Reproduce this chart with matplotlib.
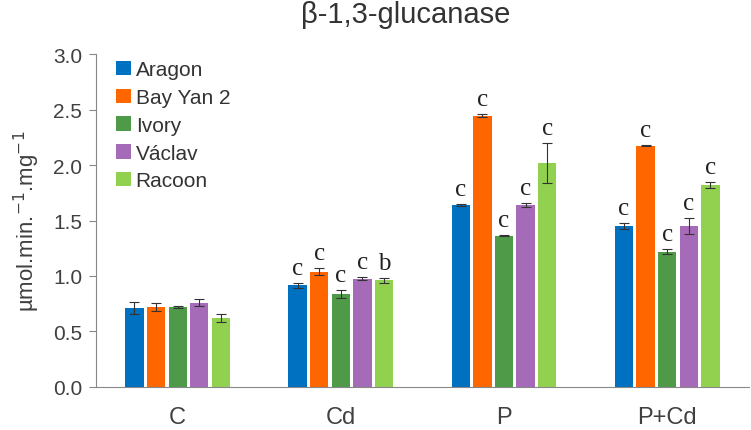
import numpy as np
import matplotlib.pyplot as plt

plt.rcParams['font.family'] = ['Liberation Sans', 'DejaVu Sans']

# data
groups = ['C', 'Cd', 'P', 'P+Cd']
cultivars = ['Aragon', 'Bay Yan 2', 'Ivory', 'Václav', 'Racoon']
colors = ['#0070C0', '#FF6600', '#4E9A48', '#A66BB8', '#92D050']

means = {
    'Aragon':    [0.71, 0.915, 1.64, 1.45],
    'Bay Yan 2': [0.72, 1.04, 2.445, 2.175],
    'Ivory':     [0.72, 0.84, 1.363, 1.22],
    'Václav':    [0.76, 0.975, 1.64, 1.45],
    'Racoon':    [0.62, 0.96, 2.02, 1.82],
}
errs = {
    'Aragon':    [0.055, 0.02, 0.01, 0.025],
    'Bay Yan 2': [0.04, 0.035, 0.015, 0.005],
    'Ivory':     [0.005, 0.035, 0.005, 0.02],
    'Václav':    [0.035, 0.015, 0.015, 0.07],
    'Racoon':    [0.035, 0.02, 0.18, 0.025],
}
letters = {
    'Aragon':    ['', 'c', 'c', 'c'],
    'Bay Yan 2': ['', 'c', 'c', 'c'],
    'Ivory':     ['', 'c', 'c', 'c'],
    'Václav':    ['', 'c', 'c', 'c'],
    'Racoon':    ['', 'b', 'c', 'c'],
}

fig = plt.figure(figsize=(7.51, 4.31), dpi=100)
ax = fig.add_axes([0.128, 0.1, 0.869, 0.772])

x = np.arange(len(groups))
step = 0.1325
width = 0.112
for i, name in enumerate(cultivars):
    pos = x + (i - 2) * step
    ax.bar(pos, means[name], width, color=colors[i], label=name,
           yerr=errs[name], capsize=3.3,
           error_kw=dict(ecolor='#333333', elinewidth=0.8, capthick=0.8))
    for xp, m, e, t in zip(pos, means[name], errs[name], letters[name]):
        if t:
            ax.text(xp, m + e + 0.08, t, ha='center', va='baseline',
                    fontsize=18, family='Liberation Serif', color='#222222')

ax.set_xlim(-0.5, 3.5)
ax.set_ylim(0, 3.0)
ax.set_yticks(np.arange(0, 3.01, 0.5))
ax.set_yticklabels([f'{v:.1f}' for v in np.arange(0, 3.01, 0.5)], fontsize=15, color='#404040')
ax.set_xticks(x)
ax.set_xticklabels(groups, fontsize=17, color='#404040')
ax.tick_params(axis='x', length=0, pad=14)
ax.tick_params(axis='y', length=5, color='#888888', pad=5)
for s in ['top', 'right']:
    ax.spines[s].set_visible(False)
ax.spines['left'].set_color('#888888')
ax.spines['bottom'].set_color('#888888')

ax.set_ylabel('µmol.min.$^{-1}$.mg$^{-1}$', fontsize=16, color='#404040', labelpad=8)
fig.text(0.54, 0.965, 'β-1,3-glucanase', fontsize=21, color='#333333',
         ha='center', va='center')

ax.legend(loc='upper left', bbox_to_anchor=(0.008, 1.025), frameon=False, fontsize=15,
          handlelength=0.7, handleheight=0.7, handletextpad=0.25, labelspacing=0.42,
          borderaxespad=0.3, labelcolor='#333333')

fig.savefig('out.png', dpi=100)
